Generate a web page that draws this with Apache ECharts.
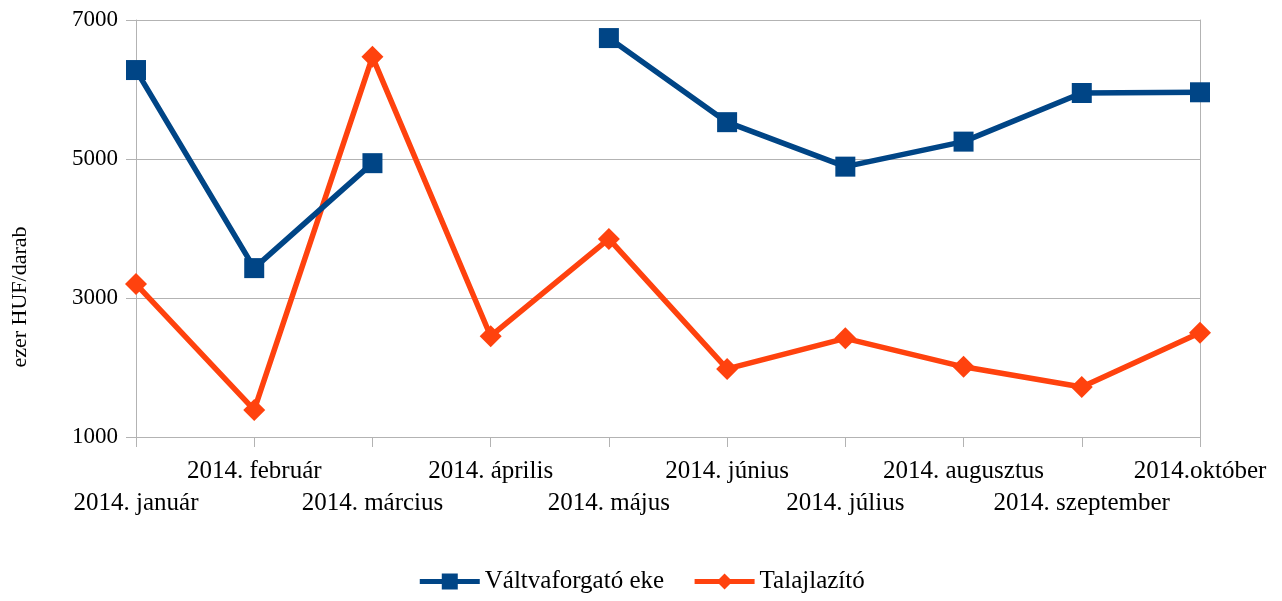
<!DOCTYPE html>
<html>
<head>
<meta charset="utf-8">
<script src="https://cdn.jsdelivr.net/npm/echarts@6/dist/echarts.min.js"></script>
<style>
  html, body { margin: 0; padding: 0; background: #fff; }
  #chart { width: 1282px; height: 601px; }
</style>
</head>
<body>
<div id="chart"></div>
<script>
// adatok
const honapok = ['2014. január', '2014. február', '2014. március', '2014. április', '2014. május',
    '2014. június', '2014. július', '2014. augusztus', '2014. szeptember', '2014.október'];
const valtvaforgato = [6280, 3430, 4940, null, 6740, 5530, 4890, 5250, 5950, 5960];
const talajlazito = [3200, 1390, 6470, 2450, 3850, 1980, 2420, 2010, 1720, 2500];
const yTicks = [1000, 3000, 5000, 7000];

const font = 'Liberation Serif';
const szurke = '#b3b3b3';

(function () {
    const el = document.getElementById('chart');
    const myChart = echarts.init(el);

    const option = {
        animation: false,
        textStyle: { fontFamily: font },
        grid: { left: 136, right: 82, top: 20, bottom: 164, containLabel: false },
        legend: {
            bottom: 2,
            left: 'center',
            itemWidth: 60,
            itemHeight: 20,
            itemGap: 28,
            lineStyle: { width: 5 },
            textStyle: { fontFamily: font, fontSize: 25, color: '#000' },
            data: ['Váltvaforgató eke', 'Talajlazító']
        },
        graphic: [{
            type: 'text',
            x: 20,
            y: 297,
            rotation: Math.PI / 2,
            style: {
                text: 'ezer HUF/darab',
                fontFamily: font,
                fontSize: 22,
                fill: '#000',
                align: 'center',
                verticalAlign: 'middle'
            }
        }],
        xAxis: {
            type: 'category',
            boundaryGap: false,
            data: honapok,
            axisLine: { show: true, lineStyle: { color: szurke, width: 1 } },
            axisTick: { show: true, length: 10, alignWithLabel: true, lineStyle: { color: szurke } },
            axisLabel: {
                interval: 0,
                margin: 18,
                color: '#000',
                fontFamily: font,
                fontSize: 25,
                lineHeight: 32,
                hideOverlap: false,
                formatter: (v, i) => (i % 2 === 0 ? '\n' + v : v)
            },
            splitLine: { show: false }
        },
        yAxis: [{
            type: 'value',
            min: 1000,
            max: 7000,
            interval: 2000,
            axisLine: { show: true, lineStyle: { color: szurke, width: 1 } },
            axisTick: { show: true, length: 10, lineStyle: { color: szurke } },
            axisLabel: {
                margin: 18,
                color: '#000',
                fontFamily: font,
                fontSize: 23,
                formatter: v => (yTicks.includes(v) ? String(v) : '')
            },
            splitLine: { show: true, lineStyle: { color: szurke, width: 1 } }
        }, {
            type: 'value',
            position: 'right',
            min: 1000,
            max: 7000,
            interval: 2000,
            axisLine: { show: true, lineStyle: { color: szurke, width: 1 } },
            axisTick: { show: false },
            axisLabel: { show: false },
            splitLine: { show: false }
        }],
        series: [
            {
                name: 'Váltvaforgató eke',
                type: 'line',
                data: valtvaforgato,
                connectNulls: false,
                symbol: 'rect',
                symbolSize: 20,
                showAllSymbol: true,
                itemStyle: { color: '#004586' },
                lineStyle: { color: '#004586', width: 5.5 },
                z: 3
            },
            {
                name: 'Talajlazító',
                type: 'line',
                data: talajlazito,
                symbol: 'diamond',
                symbolSize: 22,
                showAllSymbol: true,
                itemStyle: { color: '#ff420e' },
                lineStyle: { color: '#ff420e', width: 5.5 },
                z: 2
            }
        ]
    };

    myChart.setOption(option);
})();
</script>
</body>
</html>
